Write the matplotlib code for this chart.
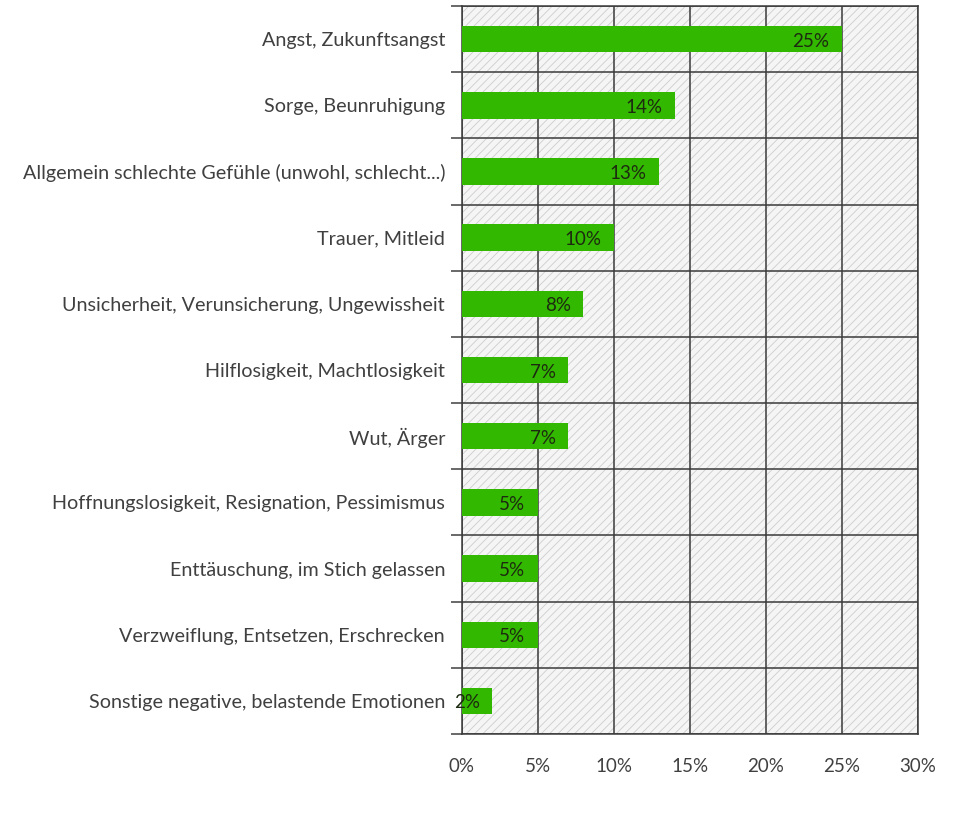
import numpy as np
import matplotlib.pyplot as plt
from matplotlib.patches import Rectangle

categories = [
    'Angst, Zukunftsangst',
    'Sorge, Beunruhigung',
    'Allgemein schlechte Gefühle (unwohl, schlecht...)',
    'Trauer, Mitleid',
    'Unsicherheit, Verunsicherung, Ungewissheit',
    'Hilflosigkeit, Machtlosigkeit',
    'Wut, Ärger',
    'Hoffnungslosigkeit, Resignation, Pessimismus',
    'Enttäuschung, im Stich gelassen',
    'Verzweiflung, Entsetzen, Erschrecken',
    'Sonstige negative, belastende Emotionen',
]
values = [25, 14, 13, 10, 8, 7, 7, 5, 5, 5, 2]
xticks = [0, 5, 10, 15, 20, 25, 30]

plt.rcParams['font.family'] = ['Lato', 'DejaVu Sans']
plt.rcParams['hatch.linewidth'] = 0.6
plt.rcParams['hatch.color'] = '#cdcdcd'

fig = plt.figure(figsize=(9.62, 8.16), dpi=100)
ax = fig.add_axes([0.480, 0.1005, 0.474, 0.892])

n = len(categories)
y = np.arange(n)

# hatched plot background
bg = Rectangle((0, 0), 1, 1, transform=ax.transAxes, facecolor='#f5f5f5',
               edgecolor='#cdcdcd', hatch='////', linewidth=0, zorder=0)
ax.add_patch(bg)
ax.set_facecolor('none')

ax.barh(y, values, height=0.4, color='#33b800', zorder=3)

fs = 13.5
for yi, v in zip(y, values):
    ax.annotate(f'{v}%', (v, yi), xytext=(-9, -1.5), textcoords='offset points',
                ha='right', va='center', fontsize=fs, color='#1c2a10', zorder=4)

ax.set_xlim(0, 30)
ax.set_ylim(n - 0.5, -0.5)

ax.set_xticks(xticks)
ax.set_xticklabels([f'{t}%' for t in xticks], fontsize=fs, color='#404040')
ax.tick_params(axis='x', length=0, pad=17)

ax.set_yticks(y)
ax.set_yticklabels(categories, fontsize=14.2, color='#404040')
ax.tick_params(axis='y', which='major', length=0, pad=12)
ax.set_yticks(np.arange(n + 1) - 0.5, minor=True)
ax.tick_params(axis='y', which='minor', length=8, width=1.1, color='#404040')

ax.grid(axis='x', color='#3a3a3a', linewidth=1.1, zorder=1)
ax.grid(axis='y', which='minor', color='#3a3a3a', linewidth=1.1, zorder=1)
ax.set_axisbelow(True)
for s in ax.spines.values():
    s.set_color('#3a3a3a')
    s.set_linewidth(1.1)

plt.savefig('out.png', dpi=100)
